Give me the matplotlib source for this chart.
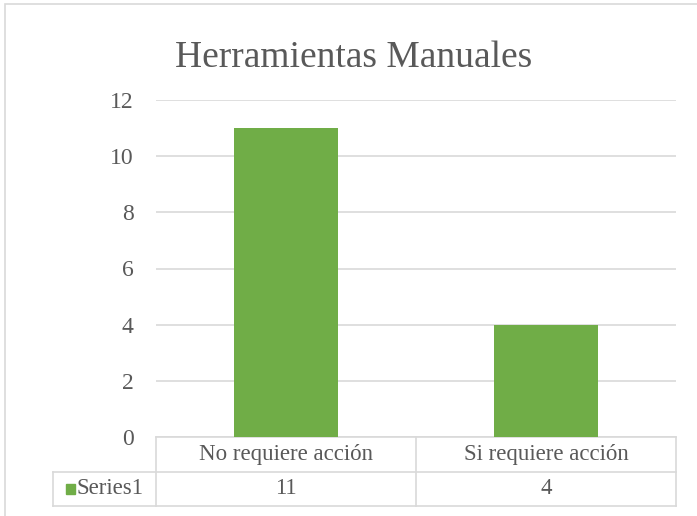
import matplotlib.pyplot as plt
from matplotlib.patches import Rectangle

# Datos
categorias = ["No requiere acción", "Si requiere acción"]
valores = [11, 4]
serie = "Series1"
titulo = "Herramientas Manuales"
yticks = [0, 2, 4, 6, 8, 10, 12]

verde = "#70AD47"
gris_txt = "#595959"
gris_lin = "#D9D9D9"

plt.rcParams['font.family'] = ['Liberation Serif', 'DejaVu Serif']

fig = plt.figure(figsize=(6.97, 5.16), dpi=100)
W, H = 697, 516

# borde del grafico
fig.patches.append(Rectangle((5 / W, -0.1), 1.0, 1 - 4 / H + 0.1, transform=fig.transFigure,
                             fill=False, edgecolor=gris_lin, linewidth=1.2))

ax = fig.add_axes([156 / W, 1 - 437 / H, 520 / W, 337 / H])
x = range(len(categorias))
ax.bar(x, valores, width=0.4, color=verde, zorder=3)
ax.set_xlim(-0.5, len(categorias) - 0.5)
ax.set_ylim(0, 12)
ax.set_yticks(yticks)
ax.set_yticklabels([str(v) for v in yticks], fontsize=17, color=gris_txt)
ax.set_xticks([])
ax.tick_params(axis='y', length=0, pad=16)
ax.grid(axis='y', color=gris_lin, linewidth=1.2, zorder=0)
for s in ax.spines.values():
    s.set_visible(False)

fig.text(354 / W, 1 - 67 / H, titulo, ha='center', va='baseline', fontsize=27, color=gris_txt)

# tabla de datos
t = ax.transAxes
y1 = -35 / 337
y2 = -69 / 337
x0 = -103 / 520
kw = dict(transform=t, color=gris_lin, linewidth=1.2, clip_on=False)
ax.plot([0, 1], [0, 0], **kw)
ax.plot([x0, 1], [y1, y1], **kw)
ax.plot([x0, 1], [y2, y2], **kw)
ax.plot([x0, x0], [y1, y2], **kw)
for xv in [0, 0.5, 1.0]:
    ax.plot([xv, xv], [0, y2], **kw)

n = len(categorias)
for i, (c, v) in enumerate(zip(categorias, valores)):
    xc = (i + 0.5) / n
    ax.text(xc, y1 / 2, c, transform=t, ha='center', va='center', fontsize=16.5, color=gris_txt)
    ax.text(xc, (y1 + y2) / 2, str(v), transform=t, ha='center', va='center', fontsize=16.5, color=gris_txt)

ax.add_patch(Rectangle((-90 / 520, (y1 + y2) / 2 - 5 / 337), 9 / 520, 10 / 337, transform=t,
                       color=verde, clip_on=False))
ax.text(-79 / 520, (y1 + y2) / 2, serie, transform=t, ha='left', va='center', fontsize=16.5, color=gris_txt)

fig.savefig("out.png", dpi=100)
